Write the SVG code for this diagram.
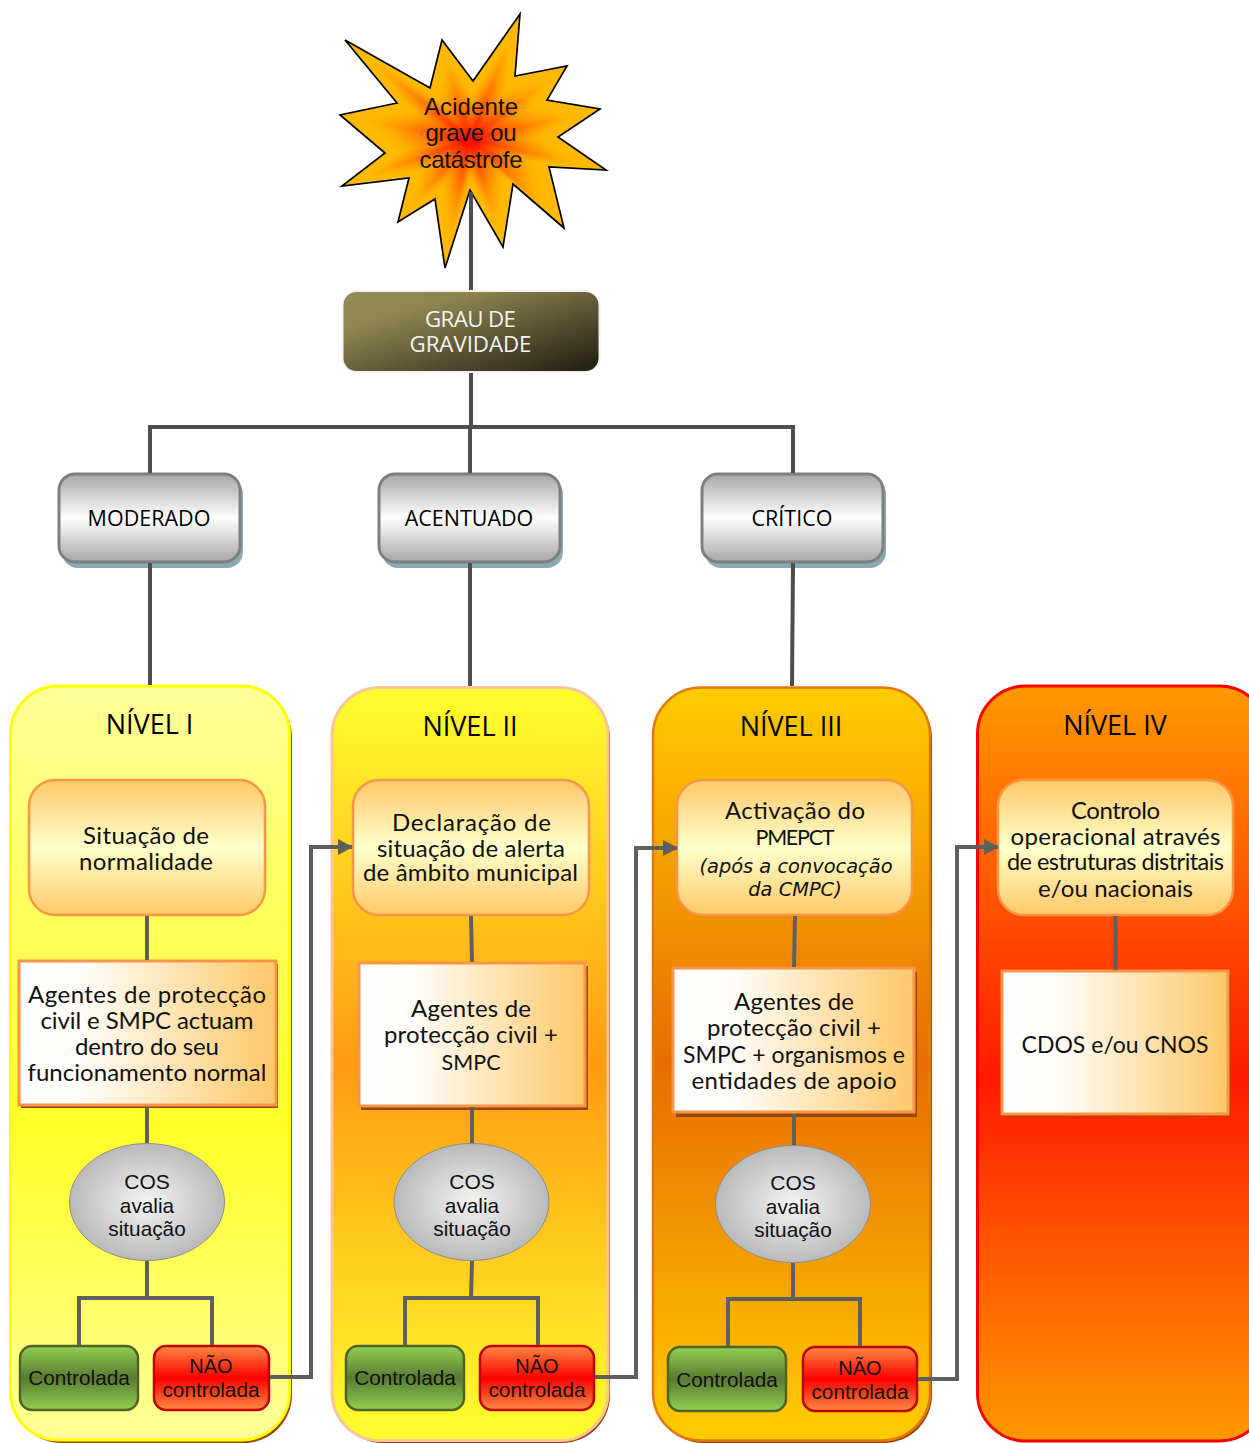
<svg xmlns="http://www.w3.org/2000/svg" xmlns:xlink="http://www.w3.org/1999/xlink" width="1249" height="1443" viewBox="0 0 1249 1443">
<style>
text{text-anchor:middle;fill:#111;font-family:"Liberation Sans",Arial,sans-serif}
.h{font-family:"Open Sans","Noto Sans",sans-serif;font-size:27px;fill:#000}
.g{font-family:"Open Sans","Noto Sans",sans-serif;font-size:21.5px;fill:#000}
.gw{font-family:"Open Sans","Noto Sans",sans-serif;font-size:22.3px;fill:#f4f4f4}
.b{font-family:"Lato","Open Sans",sans-serif;font-size:24px}
.u{font-family:"Lato","Open Sans",sans-serif;font-size:21.5px}
.i{font-family:"DejaVu Sans",sans-serif;font-style:italic;font-size:19.400px}
.m{font-size:24px}
.o{font-size:21px}
.s{font-size:20.800px}
.n{font-size:20px}
.c{fill:none;stroke:#4d4d4d;stroke-width:4}
.d{fill:none;stroke:#5f5f5f;stroke-width:4}
.a{fill:none;stroke:#5f5f5f;stroke-width:4;marker-end:url(#arr)}
.top{fill:url(#soft);stroke:#f79646;stroke-width:2.5}
.ag{fill:url(#agent);stroke:#f79646;stroke-width:3}
.cos{fill:url(#cos);stroke:#8c8c8c;stroke-width:1}
.ok{fill:url(#ok);stroke:#4f6228;stroke-width:2.5}
.no{fill:url(#no);stroke:#c00000;stroke-width:2.5}
.gr{fill:url(#grey);stroke:#7f7f7f;stroke-width:3}
.grs{fill:#8aa9b4}
</style>
<defs>
<marker id="arr" markerUnits="userSpaceOnUse" markerWidth="15" markerHeight="16" refX="14" refY="8" orient="auto"><path d="M0 0L15 8L0 16Z" fill="#5f5f5f"/></marker>
<linearGradient id="l1" x1="0" y1="0" x2="0" y2="1"><stop offset="0" stop-color="#ffff99"/><stop offset=".58" stop-color="#ffff26"/><stop offset="1" stop-color="#ffff99"/></linearGradient>
<linearGradient id="l2" x1="0" y1="0" x2="0" y2="1"><stop offset="0" stop-color="#ffff2e"/><stop offset=".5" stop-color="#ff9a10"/><stop offset="1" stop-color="#ffff2e"/></linearGradient>
<linearGradient id="l3" x1="0" y1="0" x2="0" y2="1"><stop offset="0" stop-color="#ffcc00"/><stop offset=".5" stop-color="#e86c00"/><stop offset="1" stop-color="#ffcc00"/></linearGradient>
<linearGradient id="l4" x1="0" y1="0" x2="0" y2="1"><stop offset="0" stop-color="#ff9900"/><stop offset=".52" stop-color="#ff1a00"/><stop offset="1" stop-color="#ff9900"/></linearGradient>
<linearGradient id="soft" x1="0" y1="0" x2="0" y2="1"><stop offset="0" stop-color="#fec868"/><stop offset=".5" stop-color="#ffffcc"/><stop offset="1" stop-color="#fec868"/></linearGradient>
<linearGradient id="agent" x1="0" y1="0" x2="1" y2="0"><stop offset="0" stop-color="#fff"/><stop offset=".25" stop-color="#fffdf9"/><stop offset="1" stop-color="#fec868"/></linearGradient>
<radialGradient id="cos" cx=".5" cy=".5" r=".55"><stop offset="0" stop-color="#f4f4f4"/><stop offset=".75" stop-color="#c4c4c4"/><stop offset="1" stop-color="#b4b4b4"/></radialGradient>
<linearGradient id="ok" x1="0" y1="0" x2="0" y2="1"><stop offset="0" stop-color="#92d050"/><stop offset=".5" stop-color="#5a7a32"/><stop offset="1" stop-color="#92d050"/></linearGradient>
<linearGradient id="no" x1="0" y1="0" x2="0" y2="1"><stop offset="0" stop-color="#fb8a42"/><stop offset=".5" stop-color="#ff0000"/><stop offset="1" stop-color="#fb8a42"/></linearGradient>
<linearGradient id="grey" x1="0" y1="0" x2="0" y2="1"><stop offset="0" stop-color="#a6a6a6"/><stop offset=".5" stop-color="#fff"/><stop offset="1" stop-color="#a6a6a6"/></linearGradient>
<linearGradient id="brown" x1="0" y1="0" x2="1" y2="1"><stop offset="0" stop-color="#948a54"/><stop offset=".25" stop-color="#8f8551"/><stop offset="1" stop-color="#1d1b10"/></linearGradient>
<polygon id="st" points="520,14 515,76 567,66 547,100 600,109 558,137 606,170 549,167 564,228 513,184 503,247 470,190 445,268 435,199 398,222 409,178 342,186 385,153 340,115 397,103 345,40 430,88 442,40 473,81"/>
<filter id="bl" x="-10%" y="-10%" width="120%" height="120%"><feGaussianBlur stdDeviation="1.5"/></filter>
<clipPath id="stc"><use xlink:href="#st"/></clipPath>
</defs>

<g id="panel-1"><rect x="13" y="689" width="279" height="754" rx="48" fill="#974706"/><rect x="10.500" y="686" width="279" height="754" rx="48" fill="url(#l1)" stroke="#ffff00" stroke-width="3"/><text class="h" x="149.500" y="734">NÍVEL I</text></g>
<g id="panel-2"><rect x="334" y="690" width="276" height="753" rx="48" fill="#974706"/><rect x="332" y="687.500" width="276" height="753" rx="48" fill="url(#l2)" stroke="#fbc49a" stroke-width="3"/><text class="h" x="470" y="736">NÍVEL II</text></g>
<g id="panel-3"><rect x="655" y="690" width="277" height="753" rx="48" fill="#974706"/><rect x="653" y="687.500" width="277" height="753" rx="48" fill="url(#l3)" stroke="#e3780f" stroke-width="2.500"/><text class="h" x="791" y="736">NÍVEL III</text></g>
<g id="panel-4"><rect x="977.500" y="686" width="290" height="755" rx="48" fill="url(#l4)" stroke="#ff0000" stroke-width="3"/><text class="h" x="1115" y="735">NÍVEL IV</text></g>

<g id="star">
<use xlink:href="#st" fill="#ffb900"/>
<g clip-path="url(#stc)"><g filter="url(#bl)">
<use xlink:href="#st" fill="#ffb000" transform="translate(470 140) scale(.78) translate(-470 -140)"/>
<use xlink:href="#st" fill="#ffa400" transform="translate(470 140) scale(.69) translate(-470 -140)"/>
<use xlink:href="#st" fill="#ff9600" transform="translate(470 140) scale(.6) translate(-470 -140)"/>
<use xlink:href="#st" fill="#ff8600" transform="translate(470 140) scale(.52) translate(-470 -140)"/>
<use xlink:href="#st" fill="#ff7400" transform="translate(470 140) scale(.44) translate(-470 -140)"/>
<use xlink:href="#st" fill="#ff6000" transform="translate(470 140) scale(.36) translate(-470 -140)"/>
<use xlink:href="#st" fill="#ff4a00" transform="translate(470 140) scale(.28) translate(-470 -140)"/>
<use xlink:href="#st" fill="#ff3000" transform="translate(470 140) scale(.2) translate(-470 -140)"/>
<use xlink:href="#st" fill="#ff1000" transform="translate(470 140) scale(.12) translate(-470 -140)"/>
</g></g>
<use xlink:href="#st" fill="none" stroke="#000" stroke-width="1.700"/>
<text class="m" x="471" y="115" textLength="94">Acidente</text><text class="m" x="471" y="141" textLength="91">grave ou</text><text class="m" x="471" y="168" textLength="103">catástrofe</text>
</g>

<g id="grau"><rect x="342.500" y="291" width="257" height="81" rx="14" fill="url(#brown)" stroke="#f2f2f2" stroke-width="2"/><text class="gw" x="470.500" y="327" textLength="91">GRAU DE</text><text class="gw" x="470.500" y="352" textLength="122">GRAVIDADE</text></g>

<g id="moderado"><rect class="grs" x="62" y="478" width="181" height="90" rx="16"/><rect class="gr" x="59" y="474" width="181" height="88" rx="16"/><text class="g" x="149" y="526">MODERADO</text></g>
<g id="acentuado"><rect class="grs" x="382" y="478" width="181" height="90" rx="16"/><rect class="gr" x="379" y="474" width="181" height="88" rx="16"/><text class="g" x="469" y="526">ACENTUADO</text></g>
<g id="critico"><rect class="grs" x="705" y="478" width="181" height="90" rx="16"/><rect class="gr" x="702" y="474" width="181" height="88" rx="16"/><text class="g" x="792" y="526">CRÍTICO</text></g>

<g id="n1-top"><rect class="top" x="29" y="780" width="236" height="135" rx="26"/><text class="b" x="146" y="844" textLength="126">Situação de</text><text class="b" x="146" y="870" textLength="134">normalidade</text></g>
<g id="n1-agentes"><rect x="21" y="964" width="257" height="144" fill="#974706"/><rect class="ag" x="19" y="961" width="257" height="144"/><text class="b" x="147" y="1003" textLength="238">Agentes de protecção</text><text class="b" x="147" y="1029" textLength="213">civil e SMPC actuam</text><text class="b" x="147" y="1055" textLength="144">dentro do seu</text><text class="b" x="147" y="1081" textLength="239">funcionamento normal</text></g>
<g id="n1-cos"><ellipse class="cos" cx="147" cy="1202" rx="77.500" ry="58.500"/><text class="o" x="147" y="1189">COS</text><text class="s" x="147" y="1213">avalia</text><text class="s" x="147" y="1236">situação</text></g>
<g id="n1-ok"><rect class="ok" x="20" y="1346" width="118" height="64" rx="12"/><text class="s" x="79" y="1385">Controlada</text></g>
<g id="n1-no"><rect class="no" x="154" y="1346" width="115" height="64" rx="12"/><text class="n" x="211" y="1373">NÃO</text><text class="s" x="211" y="1397">controlada</text></g>

<g id="n2-top"><rect class="top" x="353" y="780" width="236" height="135" rx="26"/><text class="b" x="471.500" y="831" textLength="159">Declaração de</text><text class="b" x="471" y="857" textLength="188">situação de alerta</text><text class="b" x="470.500" y="881" textLength="215">de âmbito municipal</text></g>
<g id="n2-agentes"><rect x="361" y="966" width="227" height="144" fill="#974706"/><rect class="ag" x="359" y="963" width="226" height="143"/><text class="b" x="471" y="1017" textLength="120">Agentes de</text><text class="b" x="471" y="1043" textLength="174">protecção civil +</text><text class="u" x="471" y="1070" textLength="59">SMPC</text></g>
<g id="n2-cos"><ellipse class="cos" cx="471.500" cy="1202" rx="77.500" ry="58.500"/><text class="o" x="472" y="1189">COS</text><text class="s" x="472" y="1213">avalia</text><text class="s" x="472" y="1236">situação</text></g>
<g id="n2-ok"><rect class="ok" x="346" y="1346" width="118" height="64" rx="12"/><text class="s" x="405" y="1385">Controlada</text></g>
<g id="n2-no"><rect class="no" x="480" y="1346" width="114" height="64" rx="12"/><text class="n" x="537" y="1373">NÃO</text><text class="s" x="537" y="1397">controlada</text></g>

<g id="n3-top"><rect class="top" x="677" y="780" width="235" height="135" rx="26"/><text class="b" x="795" y="819" textLength="140">Activação do</text><text class="u" x="795" y="845" textLength="79">PMEPCT</text><text class="i" x="796" y="873">(após a convocação</text><text class="i" x="795" y="896">da CMPC)</text></g>
<g id="n3-agentes"><rect x="676" y="972" width="241" height="145" fill="#974706"/><rect class="ag" x="673" y="968" width="241" height="144"/><text class="b" x="794" y="1010" textLength="120">Agentes de</text><text class="b" x="794" y="1036" textLength="174">protecção civil +</text><text class="b" x="794" y="1063" textLength="222" style="font-size:23px">SMPC + organismos e</text><text class="b" x="794" y="1089" textLength="205">entidades de apoio</text></g>
<g id="n3-cos"><ellipse class="cos" cx="793" cy="1204" rx="77.500" ry="58.500"/><text class="o" x="793" y="1190">COS</text><text class="s" x="793" y="1214">avalia</text><text class="s" x="793" y="1237">situação</text></g>
<g id="n3-ok"><rect class="ok" x="668" y="1347" width="118" height="64" rx="12"/><text class="s" x="727" y="1387">Controlada</text></g>
<g id="n3-no"><rect class="no" x="803" y="1347" width="114" height="64" rx="12"/><text class="n" x="860" y="1375">NÃO</text><text class="s" x="860" y="1399">controlada</text></g>

<g id="n4-top"><rect class="top" x="998" y="780" width="235" height="135" rx="26"/><text class="b" x="1115.500" y="819" textLength="89">Controlo</text><text class="b" x="1115.500" y="845" textLength="210">operacional através</text><text class="b" x="1115.500" y="870" textLength="217" style="font-size:23.500px">de estruturas distritais</text><text class="b" x="1115.500" y="897" textLength="155">e/ou nacionais</text></g>
<g id="n4-cdos"><rect x="1004" y="974" width="227" height="143" fill="#c23a00"/><rect class="ag" x="1002" y="971" width="226" height="143"/><text class="b" x="1115" y="1053" textLength="187" style="font-size:23px">CDOS e/ou CNOS</text></g>

<g id="connectors">
<path class="c" d="M471 192V290M471 373V428M150 473V427H793V473M470 428V473M150 563V685M470 563V686M793 563L792 686"/>
<path class="d" d="M147 916V960M147 1107V1143M147 1261V1298M79 1345V1298H212V1345"/>
<path class="d" d="M471 916L472 962M472 1107V1143M472 1261L471 1298M405 1345V1298H538V1345"/>
<path class="d" d="M795 916L794 967M794 1114V1145M793 1263V1298M728 1346V1299H860V1346"/>
<path class="d" d="M1115.500 916V970"/>
<path class="a" d="M270 1377H311V847H352"/>
<path class="a" d="M595 1377H636V848H677"/>
<path class="a" d="M918 1379H957V847H998"/>
</g>
</svg>
